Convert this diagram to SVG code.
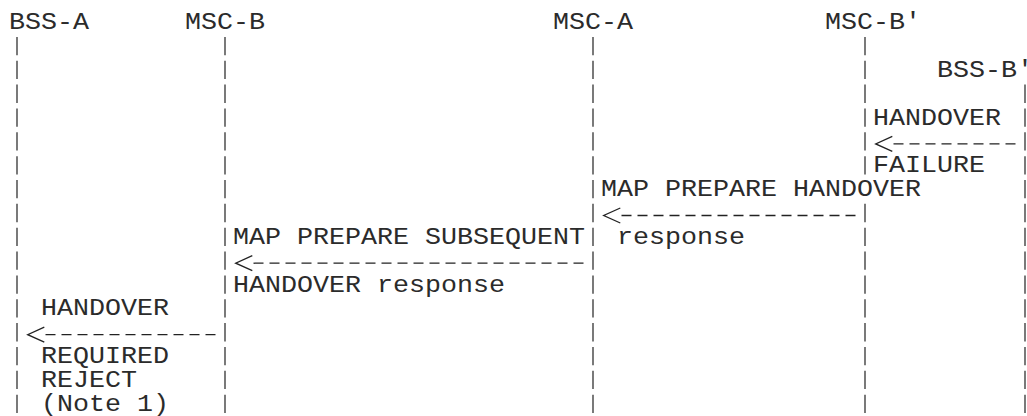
<svg xmlns="http://www.w3.org/2000/svg" width="1027" height="416" viewBox="0 0 1027 416">
<style>
text { font-family: "Liberation Mono", "DejaVu Sans Mono", monospace; font-size: 23px; fill: #2b2b2b; }
.life { stroke: #333; stroke-width: 1.3; stroke-dasharray: 18.3 5.55; fill: none; }
.msg { stroke: #222; stroke-width: 1.3; stroke-dasharray: 10 6; fill: none; marker-start: url(#chev); }
</style>
<defs>
<marker id="chev" markerUnits="userSpaceOnUse" markerWidth="20" markerHeight="18" viewBox="0 0 20 18" refX="-0.2" refY="9" orient="auto-start-reverse" overflow="visible">
<path d="M1,1.5 L17.6,9 L1,16.5" fill="none" stroke="#222" stroke-width="1.3"/>
</marker>
</defs>
<rect width="1027" height="416" fill="#fff"/>

<g id="nodes">
<g id="bss-a"><g transform="scale(1.15942 1)"><text x="7.76" y="29.3">BSS-A</text></g></g>
<g id="msc-b"><g transform="scale(1.15942 1)"><text x="159.56" y="29.3">MSC-B</text></g></g>
<g id="msc-a"><g transform="scale(1.15942 1)"><text x="476.96" y="29.3">MSC-A</text></g></g>
<g id="msc-b-prime"><g transform="scale(1.15942 1)"><text x="711.56" y="29.3">MSC-B'</text></g></g>
<g id="bss-b-prime"><g transform="scale(1.15942 1)"><text x="808.16" y="77.0">BSS-B'</text></g></g>
</g>

<g id="connectors">
<line class="life" x1="17" y1="36.9" x2="17" y2="412.95"/>
<line class="life" x1="225" y1="36.9" x2="225" y2="412.95"/>
<line class="life" x1="593" y1="36.9" x2="593" y2="412.95"/>
<line class="life" x1="865" y1="36.9" x2="865" y2="174.45"/>
<line class="life" x1="865" y1="203.85" x2="865" y2="412.95"/>
<line class="life" x1="1025" y1="84.6" x2="1025" y2="412.95"/>
<path class="msg" d="M893.5,143.9 H1015.5"/>
<path class="msg" d="M621.5,215.5 H855.5"/>
<path class="msg" d="M253.5,263.2 H583.5"/>
<path class="msg" d="M45.5,334.7 H215.5"/>
</g>

<g id="labels">
<g id="lbl-handover-failure" transform="scale(1.15942 1)">
<text x="752.96" y="124.7">HANDOVER</text>
<text x="752.96" y="172.4">FAILURE</text>
</g>
<g id="lbl-map-prepare-handover-response" transform="scale(1.15942 1)">
<text x="518.36" y="196.25">MAP PREPARE HANDOVER</text>
<text x="532.16" y="243.95">response</text>
</g>
<g id="lbl-map-prepare-subsequent" transform="scale(1.15942 1)">
<text x="200.96" y="243.95">MAP PREPARE SUBSEQUENT</text>
<text x="200.96" y="291.65">HANDOVER response</text>
</g>
<g id="lbl-handover-required-reject" transform="scale(1.15942 1)">
<text x="35.36" y="315.5">HANDOVER</text>
<text x="35.36" y="363.2">REQUIRED</text>
<text x="35.36" y="387.05">REJECT</text>
<text x="35.36" y="410.9">(Note 1)</text>
</g>
</g>
</svg>
